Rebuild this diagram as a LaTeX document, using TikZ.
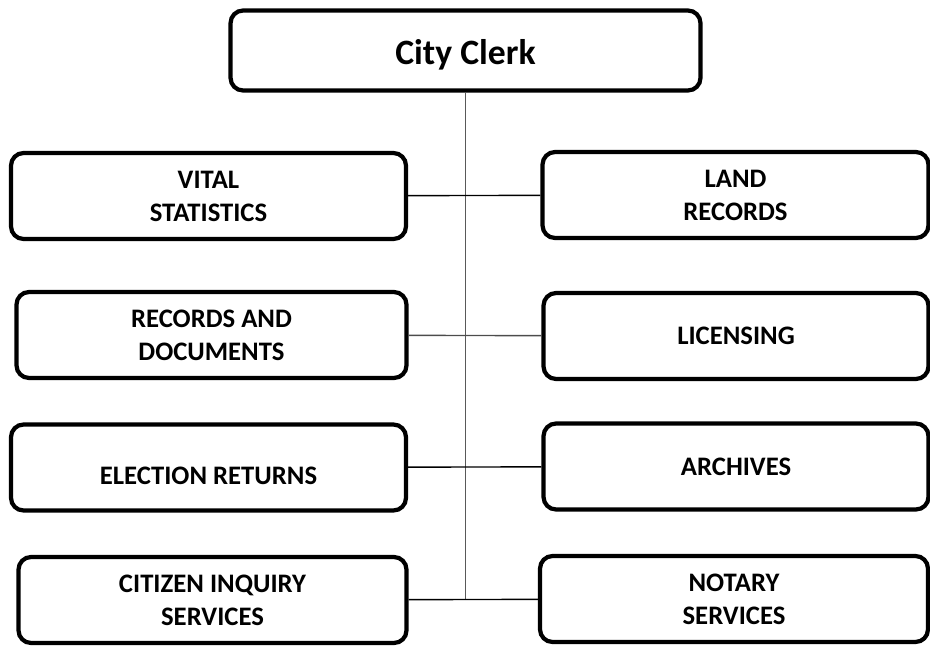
\documentclass[tikz,border=0pt]{standalone}
\usepackage{fontspec}
\setmainfont{Carlito}
\usetikzlibrary{positioning}

\begin{document}
\begin{tikzpicture}[x=0.02cm, y=-0.02cm, font=\bfseries,
    unit/.style={draw, line width=2.4pt, rounded corners=0.25cm, fill=white,
        minimum width=7.9cm, minimum height=1.72cm, align=center, inner sep=0pt,
        font=\bfseries\fontsize{15.2}{18.8}\selectfont},
    link/.style={line width=0.8pt}]
    \useasboundingbox (0,0) rectangle (930,646);
    % Head
    \node[draw, line width=2.4pt, rounded corners=0.25cm, minimum width=9.4cm, minimum height=1.6cm,
        font=\bfseries\fontsize{20.3}{24}\selectfont] (clerk) at (465.5,50.5) {\raisebox{-0.29cm}[0pt][0pt]{City Clerk}};
    % Left column
    \node[unit] (vital) at (208.5,196) {VITAL\\STATISTICS};
    \node[unit, minimum width=7.8cm] (recdoc) at (211.5,335) {RECORDS AND\\DOCUMENTS};
    \node[unit] (elect) at (208.5,467.5) {\raisebox{-0.33cm}[0pt][0pt]{ELECTION RETURNS}};
    \node[unit, minimum width=7.76cm] (citizen) at (212.5,600) {CITIZEN INQUIRY\\SERVICES};
    % Right column
    \node[unit, minimum width=7.72cm] (land) at (735.5,195) {LAND\\RECORDS};
    \node[unit, minimum width=7.7cm] (lic) at (736,336) {LICENSING};
    \node[unit, minimum width=7.7cm] (arch) at (736,466.5) {ARCHIVES};
    \node[unit, minimum width=7.76cm] (notary) at (734,599) {NOTARY\\SERVICES};
    % Lines
    \draw[link, black!65, line width=0.6pt] (clerk.south) -- (clerk.south |- notary.west);
    \draw[link] (vital) -- (land);
    \draw[link, black!70] (recdoc) -- (lic);
    \draw[link] (elect) -- (arch);
    \draw[link] (citizen) -- (notary);
\end{tikzpicture}
\end{document}
